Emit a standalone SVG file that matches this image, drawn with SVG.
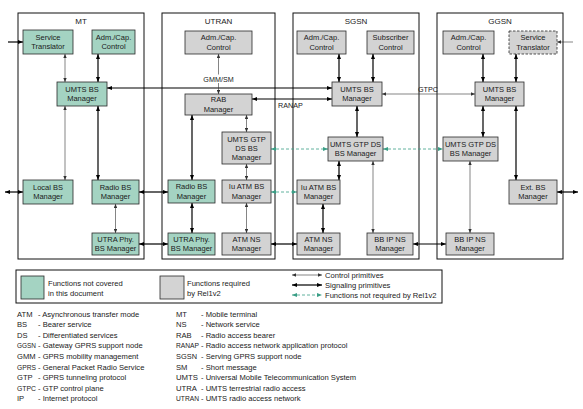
<svg xmlns="http://www.w3.org/2000/svg" width="583" height="409" viewBox="0 0 583 409">
<defs>
<style>
text{font-family:"Liberation Sans",Arial,sans-serif;fill:#1a1a1a}
.cont{fill:none;stroke:#111;stroke-width:1}
.ttl{font-size:8px;text-anchor:middle}
.nd rect{stroke:#2a2a2a;stroke-width:0.8}
.gr{fill:#a4d3c2}
.gy{fill:#d3d3d3}
.nd rect.dsh{stroke-dasharray:2.5 1.5}
.nd text{font-size:7.5px;text-anchor:middle}
.c{stroke:#333;stroke-width:0.6;fill:none;marker-start:url(#mc);marker-end:url(#mc)}
.s{stroke:#000;stroke-width:1.2;fill:none;marker-start:url(#ms);marker-end:url(#ms)}
.d{stroke:#3a9e86;stroke-width:0.8;stroke-dasharray:3 2;fill:none;marker-start:url(#md);marker-end:url(#md)}
.e{marker-start:none}
.lbl{font-size:7.2px}
.lg{font-size:7.6px}
</style>
<marker id="mc" markerUnits="userSpaceOnUse" markerWidth="4" markerHeight="3.4" refX="4" refY="1.7" orient="auto-start-reverse"><path d="M0,0L4,1.7L0,3.4z" fill="#333"/></marker>
<marker id="ms" markerUnits="userSpaceOnUse" markerWidth="5" markerHeight="4" refX="5" refY="2" orient="auto-start-reverse"><path d="M0,0L5,2L0,4z" fill="#000"/></marker>
<marker id="md" markerUnits="userSpaceOnUse" markerWidth="5" markerHeight="4" refX="5" refY="2" orient="auto-start-reverse"><path d="M0,0L5,2L0,4z" fill="#3a9e86"/></marker>
</defs>
<rect x="0" y="0" width="583" height="409" fill="#fff"/>

<g id="containers">
<g id="c-mt"><rect class="cont" x="18" y="13" width="126" height="246"/><text class="ttl" x="81" y="24">MT</text></g>
<g id="c-utran"><rect class="cont" x="162" y="13" width="113" height="246"/><text class="ttl" x="218.5" y="24">UTRAN</text></g>
<g id="c-sgsn"><rect class="cont" x="293" y="13" width="126" height="246"/><text class="ttl" x="356" y="24">SGSN</text></g>
<g id="c-ggsn"><rect class="cont" x="437" y="13" width="126" height="246"/><text class="ttl" x="500" y="24">GGSN</text></g>
</g>

<g id="connectors">
<!-- MT -->
<line class="s e" x1="8" y1="42" x2="23" y2="42"/>
<line class="c" x1="65" y1="54" x2="65" y2="82"/>
<line class="s" x1="98" y1="54" x2="98" y2="82"/>
<line class="c" x1="65" y1="106" x2="65" y2="180"/>
<line class="s" x1="98" y1="106" x2="98" y2="180"/>
<line class="s" x1="5" y1="192" x2="23" y2="192"/>
<line class="c" x1="115.5" y1="204" x2="115.5" y2="233"/>
<line class="s" x1="139" y1="192" x2="168" y2="192"/>
<line class="s" x1="139" y1="244" x2="168" y2="244"/>
<!-- GMM/SM and RANAP -->
<line class="s" x1="107" y1="88" x2="332" y2="88"/>
<line class="s" x1="252" y1="99" x2="332" y2="99"/>
<!-- UTRAN -->
<line class="c" x1="218.5" y1="54" x2="218.5" y2="94"/>
<line class="s" x1="192" y1="115" x2="192" y2="180"/>
<line class="c" x1="246.5" y1="115" x2="246.5" y2="132"/>
<line class="c" x1="246.5" y1="164" x2="246.5" y2="180"/>
<line class="c" x1="246.5" y1="203" x2="246.5" y2="233"/>
<line class="s" x1="192" y1="203" x2="192" y2="233"/>
<line class="s" x1="271" y1="244" x2="297" y2="244"/>
<line class="d" x1="271" y1="149" x2="328" y2="149"/>
<line class="d" x1="271" y1="192" x2="297" y2="192"/>
<!-- SGSN -->
<line class="s" x1="339" y1="54" x2="339" y2="82"/>
<line class="s" x1="373" y1="54" x2="373" y2="82"/>
<line class="s" x1="357" y1="106" x2="357" y2="137"/>
<line class="s" x1="339" y1="161" x2="339" y2="180"/>
<line class="c" x1="373" y1="161" x2="373" y2="233"/>
<line class="s" x1="323" y1="204" x2="323" y2="233"/>
<line class="c" x1="382" y1="94" x2="475" y2="94"/>
<line class="d" x1="383" y1="149" x2="443" y2="149"/>
<line class="s" x1="413" y1="244" x2="446" y2="244"/>
<!-- GGSN -->
<line class="c e" x1="573" y1="42" x2="557" y2="42"/>
<line class="s" x1="483" y1="54" x2="483" y2="82"/>
<line class="s" x1="516" y1="54" x2="516" y2="82"/>
<line class="s" x1="483" y1="106" x2="483" y2="137"/>
<line class="s" x1="516" y1="106" x2="516" y2="180"/>
<line class="c" x1="470" y1="161" x2="470" y2="233"/>
<line class="s" x1="557" y1="192" x2="578" y2="192"/>
</g>

<g id="connector-labels">
<rect x="203" y="74.5" width="31" height="8.5" fill="#fff"/>
<text class="lbl" x="218.5" y="81.5" text-anchor="middle">GMM/SM</text>
<text class="lbl" x="278" y="108">RANAP</text>
<text class="lbl" x="418" y="92">GTPC</text>
</g>

<g id="mt-st" class="nd"><rect class="gr" x="23" y="30" width="50" height="24"/><text x="48" y="39.8">Service</text><text x="48" y="49.2">Translator</text></g>
<g id="mt-adm" class="nd"><rect class="gr" x="92" y="30" width="43" height="24"/><text x="113.5" y="39.8">Adm./Cap.</text><text x="113.5" y="49.2">Control</text></g>
<g id="mt-umts" class="nd"><rect class="gr" x="57" y="82" width="50" height="24"/><text x="82" y="91.8">UMTS BS</text><text x="82" y="101.2">Manager</text></g>
<g id="mt-local" class="nd"><rect class="gr" x="23" y="180" width="50" height="24"/><text x="48" y="189.8">Local BS</text><text x="48" y="199.2">Manager</text></g>
<g id="mt-radio" class="nd"><rect class="gr" x="92" y="180" width="47" height="24"/><text x="115.5" y="189.8">Radio BS</text><text x="115.5" y="199.2">Manager</text></g>
<g id="mt-utra" class="nd"><rect class="gr" x="92" y="233" width="47" height="22"/><text x="115.5" y="241.8">UTRA Phy.</text><text x="115.5" y="251.2">BS Manager</text></g>

<g id="ut-adm" class="nd"><rect class="gy" x="185" y="31" width="67" height="23"/><text x="218.5" y="40.3">Adm./Cap.</text><text x="218.5" y="49.7">Control</text></g>
<g id="ut-rab" class="nd"><rect class="gy" x="185" y="94" width="67" height="21"/><text x="218.5" y="102.3">RAB</text><text x="218.5" y="111.7">Manager</text></g>
<g id="ut-gtp" class="nd"><rect class="gy" x="222" y="132" width="49" height="32"/><text x="246.5" y="141.7">UMTS GTP</text><text x="246.5" y="150.7">DS BS</text><text x="246.5" y="159.7">Manager</text></g>
<g id="ut-radio" class="nd"><rect class="gr" x="168" y="180" width="47" height="23"/><text x="191.5" y="189.3">Radio BS</text><text x="191.5" y="198.7">Manager</text></g>
<g id="ut-iu" class="nd"><rect class="gy" x="222" y="180" width="49" height="23"/><text x="246.5" y="189.3">Iu ATM BS</text><text x="246.5" y="198.7">Manager</text></g>
<g id="ut-utra" class="nd"><rect class="gr" x="168" y="233" width="47" height="22"/><text x="191.5" y="241.8">UTRA Phy.</text><text x="191.5" y="251.2">BS Manager</text></g>
<g id="ut-atm" class="nd"><rect class="gy" x="222" y="233" width="49" height="22"/><text x="246.5" y="241.8">ATM NS</text><text x="246.5" y="251.2">Manager</text></g>

<g id="sg-adm" class="nd"><rect class="gy" x="297" y="31" width="49" height="23"/><text x="321.5" y="40.3">Adm./Cap.</text><text x="321.5" y="49.7">Control</text></g>
<g id="sg-sub" class="nd"><rect class="gy" x="367" y="31" width="47" height="23"/><text x="390.5" y="40.3">Subscriber</text><text x="390.5" y="49.7">Control</text></g>
<g id="sg-umts" class="nd"><rect class="gy" x="332" y="82" width="50" height="24"/><text x="357" y="91.8">UMTS BS</text><text x="357" y="101.2">Manager</text></g>
<g id="sg-gtp" class="nd"><rect class="gy" x="328" y="137" width="55" height="24"/><text x="355.5" y="146.8">UMTS GTP DS</text><text x="355.5" y="156.2">BS Manager</text></g>
<g id="sg-iu" class="nd"><rect class="gy" x="297" y="180" width="43" height="24"/><text x="318.5" y="189.8">Iu ATM BS</text><text x="318.5" y="199.2">Manager</text></g>
<g id="sg-atm" class="nd"><rect class="gy" x="297" y="233" width="43" height="22"/><text x="318.5" y="241.8">ATM NS</text><text x="318.5" y="251.2">Manager</text></g>
<g id="sg-bbip" class="nd"><rect class="gy" x="367" y="233" width="46" height="22"/><text x="390" y="241.8">BB IP NS</text><text x="390" y="251.2">Manager</text></g>

<g id="gg-adm" class="nd"><rect class="gy" x="443" y="31" width="51" height="23"/><text x="468.5" y="40.3">Adm./Cap.</text><text x="468.5" y="49.7">Control</text></g>
<g id="gg-st" class="nd"><rect class="gy dsh" x="509" y="31" width="48" height="23"/><text x="533" y="40.3">Service</text><text x="533" y="49.7">Translator</text></g>
<g id="gg-umts" class="nd"><rect class="gy" x="475" y="82" width="49" height="24"/><text x="499.5" y="91.8">UMTS BS</text><text x="499.5" y="101.2">Manager</text></g>
<g id="gg-gtp" class="nd"><rect class="gy" x="443" y="137" width="55" height="24"/><text x="470.5" y="146.8">UMTS GTP DS</text><text x="470.5" y="156.2">BS Manager</text></g>
<g id="gg-ext" class="nd"><rect class="gy" x="509" y="180" width="48" height="24"/><text x="533" y="189.8">Ext. BS</text><text x="533" y="199.2">Manager</text></g>
<g id="gg-bbip" class="nd"><rect class="gy" x="446" y="233" width="48" height="22"/><text x="470" y="241.8">BB IP NS</text><text x="470" y="251.2">Manager</text></g>

<g id="legend">
<rect x="16" y="270" width="426" height="33" fill="none" stroke="#111" stroke-width="1"/>
<rect x="21" y="276" width="23" height="23" fill="#a4d3c2" stroke="#2a2a2a" stroke-width="0.8"/>
<text class="lg" x="48" y="286">Functions not covered</text>
<text class="lg" x="48" y="295.5">in this document</text>
<rect x="160" y="276" width="24" height="23" fill="#d3d3d3" stroke="#2a2a2a" stroke-width="0.8"/>
<text class="lg" x="187" y="286">Functions required</text>
<text class="lg" x="187" y="295.5">by Rel1v2</text>
<line class="c" x1="292" y1="275" x2="322" y2="275"/>
<line class="s" x1="292" y1="285" x2="322" y2="285"/>
<line class="d" x1="292" y1="295" x2="322" y2="295"/>
<text class="lg" x="325" y="277.5">Control primitives</text>
<text class="lg" x="325" y="287.5">Signaling primitives</text>
<text class="lg" x="325" y="297.5">Functions not required by Rel1v2</text>
</g>

<g id="abbreviations" class="lg">
<text class="lg" x="17" y="316.5">ATM</text><text class="lg" x="38" y="316.5">- Asynchronous transfer mode</text>
<text class="lg" x="17" y="327.1">BS</text><text class="lg" x="38" y="327.1">- Bearer service</text>
<text class="lg" x="17" y="337.7">DS</text><text class="lg" x="38" y="337.7">- Differentiated services</text>
<text class="lg" x="17" y="348.3" textLength="19" lengthAdjust="spacingAndGlyphs">GGSN</text><text class="lg" x="38" y="348.3">- Gateway GPRS support node</text>
<text class="lg" x="17" y="358.9">GMM</text><text class="lg" x="38" y="358.9">- GPRS mobility management</text>
<text class="lg" x="17" y="369.5" textLength="19" lengthAdjust="spacingAndGlyphs">GPRS</text><text class="lg" x="38" y="369.5">- General Packet Radio Service</text>
<text class="lg" x="17" y="380.1">GTP</text><text class="lg" x="38" y="380.1">- GPRS tunneling protocol</text>
<text class="lg" x="17" y="390.7" textLength="19" lengthAdjust="spacingAndGlyphs">GTPC</text><text class="lg" x="38" y="390.7">- GTP control plane</text>
<text class="lg" x="17" y="401.3">IP</text><text class="lg" x="38" y="401.3">- Internet protocol</text>

<text class="lg" x="176" y="316.5">MT</text><text class="lg" x="201" y="316.5">- Mobile terminal</text>
<text class="lg" x="176" y="327.1">NS</text><text class="lg" x="201" y="327.1">- Network service</text>
<text class="lg" x="176" y="337.7">RAB</text><text class="lg" x="201" y="337.7">- Radio access bearer</text>
<text class="lg" x="176" y="348.3" textLength="23" lengthAdjust="spacingAndGlyphs">RANAP</text><text class="lg" x="201" y="348.3">- Radio access network application protocol</text>
<text class="lg" x="176" y="358.9" textLength="21" lengthAdjust="spacingAndGlyphs">SGSN</text><text class="lg" x="201" y="358.9">- Serving GPRS support node</text>
<text class="lg" x="176" y="369.5">SM</text><text class="lg" x="201" y="369.5">- Short message</text>
<text class="lg" x="176" y="380.1" textLength="22" lengthAdjust="spacingAndGlyphs">UMTS</text><text class="lg" x="201" y="380.1">- Universal Mobile Telecommunication System</text>
<text class="lg" x="176" y="390.7" textLength="21" lengthAdjust="spacingAndGlyphs">UTRA</text><text class="lg" x="201" y="390.7">- UMTS terrestrial radio access</text>
<text class="lg" x="176" y="401.3" textLength="23" lengthAdjust="spacingAndGlyphs">UTRAN</text><text class="lg" x="201" y="401.3">- UMTS radio access network</text>
</g>
</svg>
